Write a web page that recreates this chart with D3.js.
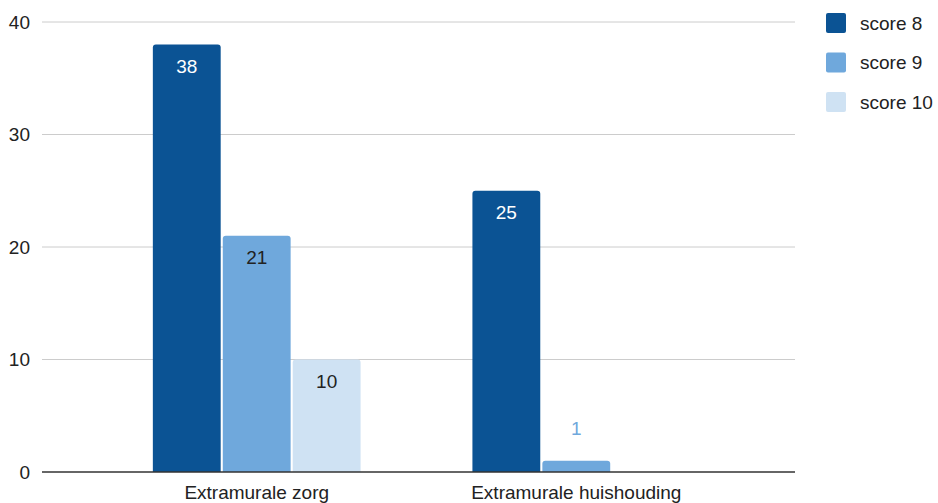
<!DOCTYPE html>
<html>
<head>
<meta charset="utf-8">
<script src="https://cdn.jsdelivr.net/npm/d3@7"></script>
<style>
  body { margin: 0; background: #fff; }
  svg { font-family: "Liberation Sans", Arial, sans-serif; }
</style>
</head>
<body>
<svg id="chart" width="938" height="503"></svg>
<script>
// chart data
const categories = ["Extramurale zorg", "Extramurale huishouding"];
const seriesNames = ["score 8", "score 9", "score 10"];
const score8 = [38, 25];
const score9 = [21, 1];
const score10 = [10, 0];
const yTicks = [0, 10, 20, 30, 40];

const colors = ["#0b5394", "#6fa8dc", "#cfe2f3"];
const labelColors = ["#ffffff", "#222222", "#222222"];

const seriesValues = [score8, score9, score10];
const rows = categories.map((c, i) => ({
    cat: c,
    vals: seriesNames.map((s, j) => ({ key: s, idx: j, value: seriesValues[j][i] }))
}));

const svg = d3.select("#chart");
const plotLeft = 42, plotRight = 795, plotTop = 22, plotBottom = 472;
const fontSize = 19;

const y = d3.scaleLinear().domain([0, 40]).range([plotBottom, plotTop]);
const x0 = d3.scaleBand().domain(categories).range([41, 792])
    .paddingInner(0.35).paddingOuter(0.35);
const x1 = d3.scaleBand().domain(seriesNames).range([0, x0.bandwidth()])
    .paddingInner(0.03).paddingOuter(0);

// gridlines + y labels
const grid = svg.append("g");
grid.selectAll("line")
    .data(yTicks.filter(d => d > 0))
    .join("line")
    .attr("x1", plotLeft).attr("x2", plotRight)
    .attr("y1", d => y(d)).attr("y2", d => y(d))
    .attr("stroke", "#cccccc").attr("stroke-width", 1);

grid.selectAll("text")
    .data(yTicks)
    .join("text")
    .attr("x", 30)
    .attr("y", d => y(d))
    .attr("dy", "0.35em")
    .attr("text-anchor", "end")
    .attr("font-size", fontSize)
    .attr("fill", "#222")
    .text(d => d);

// bars
const groups = svg.append("g").selectAll("g")
    .data(rows)
    .join("g")
    .attr("transform", d => `translate(${x0(d.cat)},0)`);

groups.selectAll("path")
    .data(d => d.vals.filter(v => v.value > 0))
    .join("path")
    .attr("fill", d => colors[d.idx])
    .attr("d", d => {
        const bx = x1(d.key), bw = x1.bandwidth();
        const by = y(d.value), r = 3;
        return `M${bx},${plotBottom}V${by + r}Q${bx},${by} ${bx + r},${by}H${bx + bw - r}Q${bx + bw},${by} ${bx + bw},${by + r}V${plotBottom}Z`;
    });

// value labels
groups.selectAll("text")
    .data(d => d.vals.filter(v => v.value > 0))
    .join("text")
    .attr("x", d => x1(d.key) + x1.bandwidth() / 2)
    .attr("y", d => {
        const h = plotBottom - y(d.value);
        return h > 40 ? y(d.value) + 22 : y(d.value) - 32;
    })
    .attr("dy", "0.35em")
    .attr("text-anchor", "middle")
    .attr("font-size", fontSize)
    .attr("fill", d => (plotBottom - y(d.value)) > 40 ? labelColors[d.idx] : colors[d.idx])
    .text(d => d.value);

// baseline
svg.append("line")
    .attr("x1", plotLeft).attr("x2", plotRight)
    .attr("y1", plotBottom).attr("y2", plotBottom)
    .attr("stroke", "#333").attr("stroke-width", 1.5);

// category labels
svg.append("g").selectAll("text")
    .data(categories)
    .join("text")
    .attr("x", d => x0(d) + x0.bandwidth() / 2)
    .attr("y", 492)
    .attr("dy", "0.35em")
    .attr("text-anchor", "middle")
    .attr("font-size", fontSize)
    .attr("fill", "#222")
    .text(d => d);

// legend
const legend = svg.append("g").selectAll("g")
    .data(seriesNames)
    .join("g")
    .attr("transform", (d, i) => `translate(826,${13 + i * 39.5})`);

legend.append("rect")
    .attr("width", 20).attr("height", 20).attr("rx", 2)
    .attr("fill", (d, i) => colors[i]);

legend.append("text")
    .attr("x", 34).attr("y", 10)
    .attr("dy", "0.35em")
    .attr("font-size", fontSize)
    .attr("fill", "#222")
    .text(d => d);
</script>
</body>
</html>
